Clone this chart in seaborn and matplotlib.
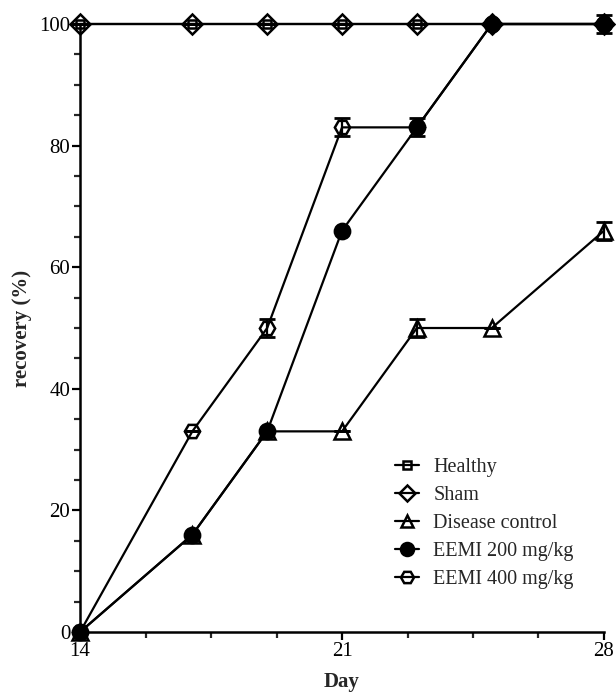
import matplotlib
matplotlib.use("Agg")
import matplotlib.pyplot as plt
import seaborn as sns
import pandas as pd
from matplotlib.ticker import MultipleLocator, FixedLocator
from matplotlib.lines import Line2D

sns.set_theme(style="ticks")
plt.rcParams['font.family'] = ['Liberation Serif', 'DejaVu Serif']

days = [14, 17, 19, 21, 23, 25, 28]
healthy = [100, 100, 100, 100, 100, 100, 100]
sham = [100, 100, 100, 100, 100, 100, 100]
disease = [0, 16, 33, 33, 50, 50, 66]
eemi200 = [0, 16, 33, 66, 83, 100, 100]
eemi400 = [0, 33, 50, 83, 83, 100, 100]
healthy_err = [0, 0, 0, 0, 0, 0, 0]
sham_err = [0, 0, 0, 0, 0, 0, 1.5]
disease_err = [0, 0, 0, 0, 1.5, 0, 1.5]
eemi200_err = [0, 0, 0, 0, 1.5, 0, 0]
eemi400_err = [0, 0, 1.5, 1.5, 0, 0, 0]
labels = ["Healthy", "Sham", "Disease control", "EEMI 200 mg/kg", "EEMI 400 mg/kg"]

series = [
    (labels[0], healthy, healthy_err, "s", "none", 6),
    (labels[1], sham, sham_err, "D", "none", 10),
    (labels[2], disease, disease_err, "^", "none", 11),
    (labels[3], eemi200, eemi200_err, "o", "black", 11),
    (labels[4], eemi400, eemi400_err, "H", "none", 11),
]

fig = plt.figure(figsize=(6.16, 6.92), dpi=100)
ax = fig.add_axes([0.13, 0.0867, 0.8505, 0.8786])

handles = []
for name, vals, errs, mk, fc, ms in series:
    df = pd.DataFrame({"Day": days, "val": vals})
    sns.lineplot(data=df, x="Day", y="val", ax=ax, color="black", lw=1.6,
                 marker=mk, markersize=ms, markerfacecolor=fc,
                 markeredgecolor="black", markeredgewidth=1.8,
                 clip_on=False, zorder=3, legend=False)
    ax.errorbar(days, vals, yerr=errs, fmt="none", ecolor="black",
                elinewidth=1.6, capsize=6, capthick=2, clip_on=False, zorder=2)
    handles.append(Line2D([], [], color="black", lw=1.6, marker=mk,
                          markersize=ms * 0.85, markerfacecolor=fc,
                          markeredgecolor="black", markeredgewidth=1.8,
                          label=name))

ax.set_xlim(14, 28)
ax.set_ylim(0, 100)
ax.xaxis.set_major_locator(FixedLocator([14, 21, 28]))
ax.xaxis.set_minor_locator(MultipleLocator(1.75))
ax.yaxis.set_major_locator(MultipleLocator(20))
ax.yaxis.set_minor_locator(MultipleLocator(5))
ax.tick_params(axis="both", which="major", length=6, width=1.6, labelsize=15,
               colors="black", pad=1)
ax.tick_params(axis="both", which="minor", length=4, width=1.6)
for s in ["top", "right"]:
    ax.spines[s].set_visible(False)
for s in ["left", "bottom"]:
    ax.spines[s].set_linewidth(1.8)
    ax.spines[s].set_color("black")

ax.set_xlabel("Day", fontsize=15, fontweight="bold", labelpad=8)
ax.set_ylabel("recovery (%)", fontsize=15, fontweight="bold", labelpad=5)

ax.legend(handles=handles, loc="upper left", bbox_to_anchor=(0.586, 0.30),
          frameon=False, fontsize=14.5, handlelength=1.2, handletextpad=0.7,
          labelspacing=0.45, borderaxespad=0.0)

fig.savefig("out.png", dpi=100)
